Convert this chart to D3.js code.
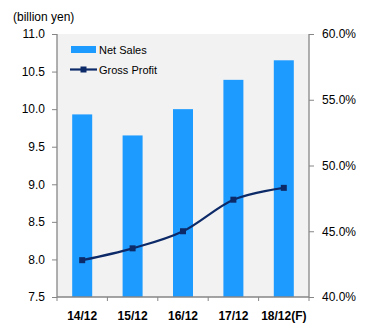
<!DOCTYPE html>
<html>
<head>
<meta charset="utf-8">
<script src="https://cdn.jsdelivr.net/npm/d3@7"></script>
<style>
  body { margin: 0; background: #fff; }
  text { font-family: "Liberation Sans", Arial, sans-serif; fill: #000; }
</style>
</head>
<body>
<div id="chart"></div>
<script>
var years = ["14/12", "15/12", "16/12", "17/12", "18/12(F)"];
var netSales = [9.93, 9.65, 10.0, 10.39, 10.65];
var grossProfit = [42.8, 43.7, 45.0, 47.4, 48.3];
var leftTicks = [7.5, 8.0, 8.5, 9.0, 9.5, 10.0, 10.5, 11.0];
var rightTicks = [40, 45, 50, 55, 60];

var width = 367;
var height = 334;
var margin = { top: 34, right: 58, bottom: 37, left: 57 };
var w = width - margin.left - margin.right;
var h = height - margin.top - margin.bottom;
var axisColor = "#868686";

var svg = d3.select("#chart")
  .append("svg")
  .attr("width", width)
  .attr("height", height);

var g = svg.append("g")
  .attr("transform", "translate(" + margin.left + "," + margin.top + ")");

var x = d3.scaleBand().domain(years).range([0, w]).paddingInner(0.6).paddingOuter(0.3);
var xPt = d3.scalePoint().domain(years).range([0, w]).padding(0.5);
var y = d3.scaleLinear().domain([7.5, 11]).range([h, 0]);
var y2 = d3.scaleLinear().domain([40, 60]).range([h, 0]);

// plot background
g.append("rect")
  .attr("width", w)
  .attr("height", h)
  .attr("fill", "#f2f2f2");

// bars
g.selectAll(".bar")
  .data(netSales)
  .enter()
  .append("rect")
  .attr("class", "bar")
  .attr("x", function(d, i) { return xPt(years[i]) - 10; })
  .attr("width", 20)
  .attr("y", function(d) { return y(d); })
  .attr("height", function(d) { return h - y(d); })
  .attr("fill", "#1e9bff");

// line
var line = d3.line()
  .x(function(d, i) { return xPt(years[i]); })
  .y(function(d) { return y2(d); })
  .curve(d3.curveCatmullRom.alpha(0));

g.append("path")
  .datum(grossProfit)
  .attr("d", line)
  .attr("fill", "none")
  .attr("stroke", "#0d2a68")
  .attr("stroke-width", 2.2);

g.selectAll(".pt")
  .data(grossProfit)
  .enter()
  .append("rect")
  .attr("class", "pt")
  .attr("x", function(d, i) { return xPt(years[i]) - 3; })
  .attr("y", function(d) { return y2(d) - 3; })
  .attr("width", 6)
  .attr("height", 6)
  .attr("fill", "#0d2a68");

// axes
var leftAxis = g.append("g")
  .call(d3.axisLeft(y).tickValues(leftTicks).tickSize(5).tickPadding(7)
    .tickFormat(d3.format(".1f")));

var rightAxis = g.append("g")
  .attr("transform", "translate(" + w + ",0)")
  .call(d3.axisRight(y2).tickValues(rightTicks).tickSize(5).tickPadding(8)
    .tickFormat(function(d) { return d.toFixed(1) + "%"; }));

var bottomAxis = g.append("g")
  .attr("transform", "translate(0," + h + ")")
  .call(d3.axisBottom(x).tickSize(0).tickPadding(14));

// category boundary ticks
var step = w / years.length;
g.selectAll(".xtick")
  .data(d3.range(years.length + 1))
  .enter()
  .append("line")
  .attr("x1", function(d) { return d * step; })
  .attr("x2", function(d) { return d * step; })
  .attr("y1", h)
  .attr("y2", h + 4)
  .attr("stroke", axisColor);

[leftAxis, rightAxis, bottomAxis].forEach(function(a) {
  a.select(".domain").attr("stroke", axisColor).attr("stroke-width", 1.3);
  a.selectAll(".tick line").attr("stroke", axisColor);
  a.selectAll("text").attr("font-family", "Liberation Sans, Arial, sans-serif");
});
leftAxis.selectAll("text").attr("font-size", 12);
rightAxis.selectAll("text").attr("font-size", 12);
bottomAxis.selectAll("text").attr("font-size", 12).attr("font-weight", "bold");
bottomAxis.select(".domain").attr("d", "M0,0H" + w);
leftAxis.select(".domain").attr("d", "M0," + h + "V0");
rightAxis.select(".domain").attr("d", "M0," + h + "V0");

// unit label
svg.append("text")
  .attr("x", 13)
  .attr("y", 21)
  .attr("font-size", 12)
  .text("(billion yen)");

// legend
var legend = svg.append("g");
legend.append("rect")
  .attr("x", 71).attr("y", 46)
  .attr("width", 25).attr("height", 7)
  .attr("fill", "#1e9bff");
legend.append("text")
  .attr("x", 99).attr("y", 54)
  .attr("font-size", 11)
  .text("Net Sales");
legend.append("line")
  .attr("x1", 70).attr("x2", 97)
  .attr("y1", 69.5).attr("y2", 69.5)
  .attr("stroke", "#0d2a68")
  .attr("stroke-width", 2.2);
legend.append("rect")
  .attr("x", 80.5).attr("y", 66.5)
  .attr("width", 6).attr("height", 6)
  .attr("fill", "#0d2a68");
legend.append("text")
  .attr("x", 99).attr("y", 74)
  .attr("font-size", 11)
  .text("Gross Profit");
</script>
</body>
</html>
